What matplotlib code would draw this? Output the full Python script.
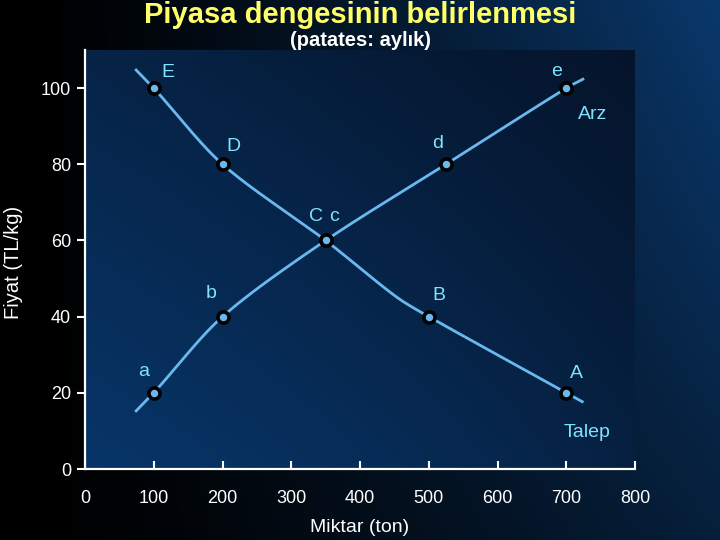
import numpy as np
import matplotlib
matplotlib.use("Agg")
import matplotlib.pyplot as plt

# ---- data ----
demand_labels = ["E", "D", "C", "B", "A"]
demand_q = [100, 200, 350, 500, 700]
demand_p = [100, 80, 60, 40, 20]
demand_line_q = [73, 100, 200, 350, 452, 500, 700, 725]
demand_line_p = [105, 100, 80, 60, 45.3, 40, 20, 17.5]

supply_labels = ["a", "b", "c", "d", "e"]
supply_q = [100, 200, 350, 525, 700]
supply_p = [20, 40, 60, 80, 100]
supply_line_q = [73, 100, 200, 350, 525, 700, 726]
supply_line_p = [15, 20, 40, 60, 80, 100, 102.5]

x_ticks = [0, 100, 200, 300, 400, 500, 600, 700, 800]
y_ticks = [0, 20, 40, 60, 80, 100]

title = "Piyasa dengesinin belirlenmesi"
subtitle = "(patates: aylık)"
xlabel = "Miktar (ton)"
ylabel = "Fiyat (TL/kg)"

plt.rcParams["font.family"] = ["Liberation Sans", "DejaVu Sans"]


def smooth(xs, ys, n=40, k=0.45):
    # Hermite curve through points, tangents along neighbour chords (display-normalised)
    P = np.column_stack([np.asarray(xs, float) / 800 * 550, np.asarray(ys, float) / 110 * 419])
    N = len(P)
    dirs = []
    for i in range(N):
        a = P[max(i - 1, 0)]; b = P[min(i + 1, N - 1)]
        v = b - a
        dirs.append(v / np.linalg.norm(v))
    out = []
    for i in range(N - 1):
        L = np.linalg.norm(P[i + 1] - P[i]) * k
        m0 = dirs[i] * L * 2; m1 = dirs[i + 1] * L * 2
        t = np.linspace(0, 1, n)[:, None]
        h00 = 2 * t**3 - 3 * t**2 + 1; h10 = t**3 - 2 * t**2 + t
        h01 = -2 * t**3 + 3 * t**2; h11 = t**3 - t**2
        out.append(h00 * P[i] + h10 * m0 + h01 * P[i + 1] + h11 * m1)
    out = np.vstack(out)
    return out[:, 0] * 800 / 550, out[:, 1] * 110 / 419


fig = plt.figure(figsize=(7.2, 5.4), dpi=100)

bg = fig.add_axes([0, 0, 1, 1], zorder=-10)
gx = np.linspace(0, 1, 300)[None, :]
gy = np.linspace(1, 0, 200)[:, None]
t = np.clip(gx * 1.05 - 0.05, 0, 1) ** 1.2
r = 0.04 * t * (0.6 + 0.4 * gy)
g = 0.22 * t * (0.55 + 0.45 * gy)
b = 0.42 * t * (0.55 + 0.45 * gy)
bg.imshow(np.dstack([r + 0 * gy, g + 0 * gy, b + 0 * gy]), aspect="auto", extent=[0, 1, 0, 1])
bg.set_axis_off()

ax = fig.add_axes([85 / 720, 71 / 540, 550 / 720, 419 / 540])
ax.set_xlim(0, 800)
ax.set_ylim(0, 110)

px = np.linspace(0, 1, 200)[None, :]
py = np.linspace(1, 0, 200)[:, None]
s = np.clip(0.55 * (1 - py) + 0.45 * (1 - px), 0, 1)
s = s * (1 - 0.35 * px ** 3)
pr = 0.02 + 0.01 * s
pg = 0.08 + 0.13 * s
pb = 0.17 + 0.24 * s
ax.imshow(np.dstack([pr + 0 * px, pg + 0 * px, pb + 0 * px]), aspect="auto",
          extent=[0, 800, 0, 110], zorder=0)

line_col = "#6ab8f0"
dx, dy = smooth(demand_line_q, demand_line_p)
sx, sy = smooth(supply_line_q, supply_line_p)
ax.plot(dx, dy, color=line_col, lw=2, zorder=2, solid_capstyle="butt")
ax.plot(sx, sy, color=line_col, lw=2, zorder=2, solid_capstyle="butt")
ax.plot(demand_q, demand_p, "o", ms=8, mfc=line_col, mec="black", mew=2.6, ls="none", zorder=3)
ax.plot(supply_q, supply_p, "o", ms=8, mfc=line_col, mec="black", mew=2.6, ls="none", zorder=3)

lab_col = "#7fe3ff"
fs = 14
dem_off = {"E": (10, 11), "D": (8, 13), "C": (-7, 17), "B": (7, 15), "A": (7, 14)}
sup_off = {"a": (-7, 15), "b": (-8, 17), "c": (6, 17), "d": (-6, 15), "e": (-7, 12)}
for lab, q, p in zip(demand_labels, demand_q, demand_p):
    ox, oy = dem_off[lab]
    ax.annotate(lab, (q, p), xytext=(ox, oy), textcoords="offset points",
                ha="center", va="center", color=lab_col, fontsize=fs, zorder=4)
for lab, q, p in zip(supply_labels, supply_q, supply_p):
    ox, oy = sup_off[lab]
    ax.annotate(lab, (q, p), xytext=(ox, oy), textcoords="offset points",
                ha="center", va="center", color=lab_col, fontsize=fs, zorder=4)
ax.text(739, 93, "Arz", color=lab_col, fontsize=fs, ha="center", va="center")
ax.text(731, 9.5, "Talep", color=lab_col, fontsize=fs, ha="center", va="center")

for sp in ["top", "right"]:
    ax.spines[sp].set_visible(False)
for sp in ["left", "bottom"]:
    ax.spines[sp].set_color("white")
    ax.spines[sp].set_linewidth(1.6)
ax.set_xticks(x_ticks)
ax.set_yticks(y_ticks)
ax.tick_params(axis="x", direction="in", length=6, width=1.5, colors="white",
               labelsize=13, pad=15)
ax.tick_params(axis="y", direction="out", length=6, width=1.5, colors="white",
               labelsize=13, pad=4)

fig.text(360 / 720, 1 - 15 / 540, title, color="#ffff66", fontsize=21, fontweight="bold",
         ha="center", va="center")
fig.text(360 / 720, 1 - 40 / 540, subtitle, color="white", fontsize=14.5, fontweight="bold",
         ha="center", va="center")
fig.text(360 / 720, 1 - 527 / 540, xlabel, color="white", fontsize=14, ha="center", va="center")
fig.text(14 / 720, 1 - 262 / 540, ylabel, color="white", fontsize=14.5, ha="center", va="center",
         rotation=90)

fig.savefig("out.png", dpi=100)
